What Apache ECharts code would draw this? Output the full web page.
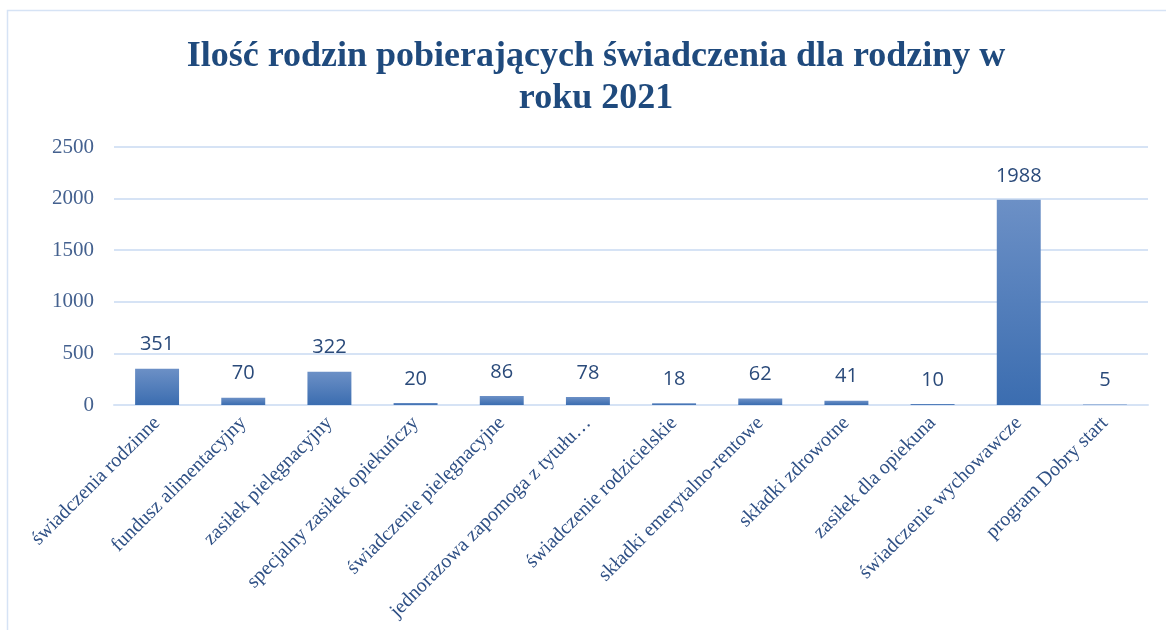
<!DOCTYPE html>
<html>
<head>
    <meta charset="utf-8">
    <title>Ilość rodzin</title>
    <script src="https://cdn.jsdelivr.net/npm/echarts@6/dist/echarts.min.js"></script>
    <style>
        html, body { margin: 0; padding: 0; background: #fff; }
        #main { width: 1166px; height: 630px; }
    </style>
</head>
<body>
<div id="main"></div>
<script type="text/javascript">

    // kategorie i wartości
    var categories = [
        'świadczenia rodzinne',
        'fundusz alimentacyjny',
        'zasiłek pielęgnacyjny',
        'specjalny zasiłek opiekuńczy',
        'świadczenie pielęgnacyjne',
        'jednorazowa zapomoga z tytułu…',
        'świadczenie rodzicielskie',
        'składki emerytalno-rentowe',
        'składki zdrowotne',
        'zasiłek dla opiekuna',
        'świadczenie wychowawcze',
        'program Dobry start'
    ];
    var values = [351, 70, 322, 20, 86, 78, 18, 62, 41, 10, 1988, 5];
    var yTicks = [0, 500, 1000, 1500, 2000, 2500];

    var myChart = echarts.init(document.getElementById('main'));

    var option = {
        animation: false,
        title: {
            text: 'Ilość rodzin pobierających świadczenia dla rodziny w\nroku 2021',
            left: 591,
            top: 31,
            textAlign: 'center',
            textStyle: {
                fontFamily: 'Liberation Serif',
                fontWeight: 'bold',
                fontSize: 36,
                lineHeight: 42,
                color: '#1F4A7D'
            }
        },
        graphic: [{
            type: 'rect',
            shape: { x: 7.5, y: 10.5, width: 1200, height: 700 },
            style: { fill: 'none', stroke: '#D6E3F5', lineWidth: 1.5 },
            silent: true
        }],
        grid: {
            left: 114,
            right: 18,
            top: 147,
            bottom: 225,
            containLabel: false,
            outerBoundsMode: 'none'
        },
        xAxis: {
            type: 'category',
            data: categories,
            axisTick: { show: false },
            axisLine: { lineStyle: { color: '#D6E3F5', width: 2 } },
            axisLabel: {
                interval: 0,
                rotate: 45,
                margin: 15,
                fontFamily: 'Liberation Serif',
                fontSize: 20,
                color: '#2F5085'
            }
        },
        yAxis: {
            type: 'value',
            min: yTicks[0],
            max: yTicks[yTicks.length - 1],
            interval: 500,
            axisLine: { show: false },
            axisTick: { show: false },
            splitLine: { lineStyle: { color: '#D6E3F5', width: 2 } },
            axisLabel: {
                margin: 20,
                fontFamily: 'Liberation Serif',
                fontSize: 21,
                color: '#44618F',
                formatter: function (v) { return String(v); }
            }
        },
        series: [{
            type: 'bar',
            data: values,
            barWidth: '51%',
            itemStyle: {
                color: new echarts.graphic.LinearGradient(0, 0, 0, 1, [
                    { offset: 0, color: '#6C90C6' },
                    { offset: 1, color: '#3B6DB0' }
                ])
            },
            label: {
                show: true,
                position: 'top',
                distance: 14,
                fontFamily: 'Open Sans',
                fontSize: 20,
                color: '#2A4A7A'
            }
        }]
    };

    myChart.setOption(option);

</script>
</body>
</html>
